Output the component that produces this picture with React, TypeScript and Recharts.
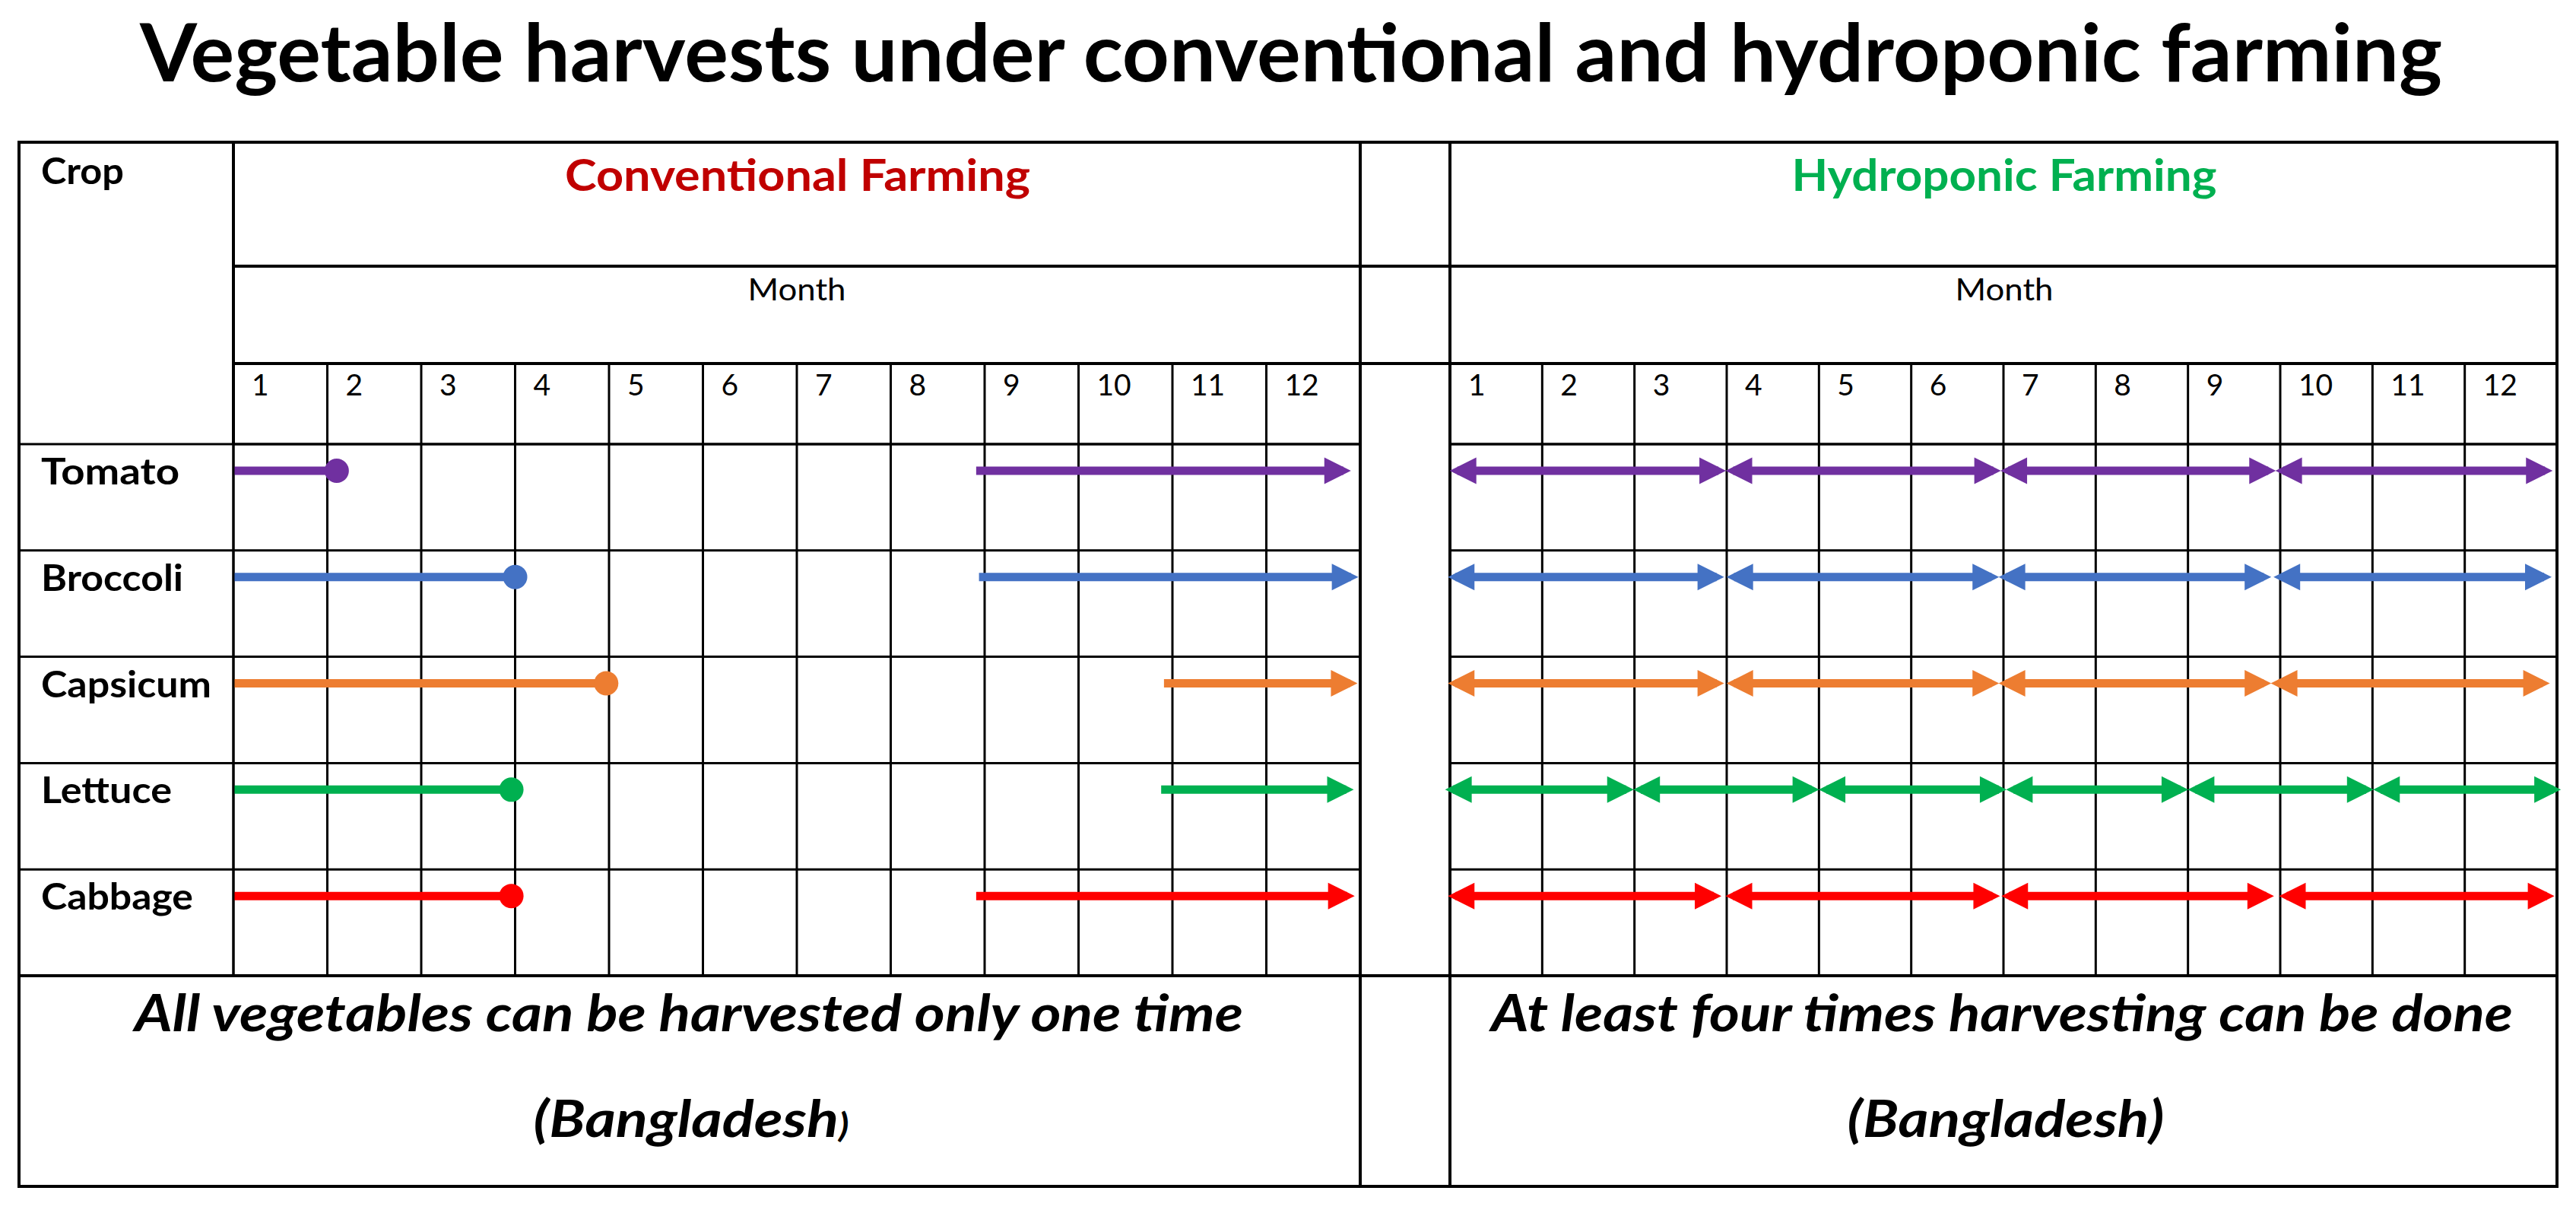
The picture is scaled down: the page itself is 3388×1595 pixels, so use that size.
import React from 'react';
import { ComposedChart, Line, XAxis, YAxis, CartesianGrid, Customized } from 'recharts';

// ---- data ----
const CROPS = ['Tomato', 'Broccoli', 'Capsicum', 'Lettuce', 'Cabbage'];
const MONTHS = ['1', '2', '3', '4', '5', '6', '7', '8', '9', '10', '11', '12'];
const MONTH_TICKS = [0, 1, 2, 3, 4, 5, 6, 7, 8, 9, 10, 11, 12];
const ROW_TICKS = [0, 1, 2, 3, 4, 5];

// conventional farming: one harvest window wrapping the year end
// early part runs from January to the dot, late part from its start to the arrow
const CONV_EARLY_END = [1.1, 3.0, 3.97, 2.96, 2.96];
const CONV_LATE_START = [7.91, 7.94, 9.91, 9.88, 7.91];
const CONV_LATE_END = [11.82, 11.9, 11.89, 11.85, 11.86];

// hydroponic farming: repeated cycles [start, end] in months
const HYDRO_TOMATO = [[0.08, 2.91], [3.07, 5.89], [6.05, 8.87], [9.03, 11.87]];
const HYDRO_BROCCOLI = [[0.06, 2.89], [3.08, 5.87], [6.03, 8.82], [9.01, 11.86]];
const HYDRO_CAPSICUM = [[0.06, 2.89], [3.08, 5.87], [6.03, 8.82], [8.98, 11.84]];
const HYDRO_LETTUCE = [[0.03, 1.91], [2.07, 3.92], [4.08, 5.95], [6.11, 7.92], [8.08, 9.93], [10.09, 11.96]];
const HYDRO_CABBAGE = [[0.06, 2.86], [3.07, 5.88], [6.06, 8.85], [9.07, 11.89]];
const HYDRO_CYCLES = [HYDRO_TOMATO, HYDRO_BROCCOLI, HYDRO_CAPSICUM, HYDRO_LETTUCE, HYDRO_CABBAGE];

// ---- styles / layout ----
const CROP_COLORS = ['#7030A0', '#4472C4', '#ED7D31', '#00B050', '#FF0000'];
const CROP_LABEL_WIDTH = [182, 187, 224, 172, 200]; // squeeze Lato to the original's text widths
const FONT = 'Lato, "Open Sans", sans-serif';
const W = 3388;
const H = 1595;
const T = {
  left: 25, right: 3363, top: 187, bottom: 1560,
  cropRight: 307, convRight: 1789, hydroLeft: 1907,
  titleRow: 350, monthRow: 478, gridTop: 584, gridBottom: 1283,
};
const LANE = 0.25; // where the arrow sits inside a crop row
const GRID = { stroke: '#000', strokeWidth: 3 };
const SHAFT = 11;

const seg = (row: number, s: number, e: number) => [
  { x: s, y: row + LANE },
  { x: e, y: row + LANE },
];

const makeEnds = (color: string, start: 'none' | 'arrow', end: 'dot' | 'arrow') => (p: any) => {
  const { cx, cy, index } = p;
  const key = `end-${index}`;
  const kind = index === 0 ? start : end;
  if (kind === 'none') return <g key={key} />;
  if (kind === 'dot') return <circle key={key} cx={cx} cy={cy} r={16} fill={color} />;
  const dir = index === 0 ? -1 : 1;
  const tip = cx + dir * 10;
  const base = cx - dir * 25;
  return <polygon key={key} points={`${tip},${cy} ${base},${cy - 17.5} ${base},${cy + 17.5}`} fill={color} />;
};

const MonthTick = (props: any) => {
  const { x, y, payload } = props;
  if (payload.value >= 12) return <g />;
  return (
    <text x={x + 24} y={y + 42} fontFamily={FONT} fontSize={39} fill="#000">
      {MONTHS[payload.value]}
    </text>
  );
};

const CropTick = (props: any) => {
  const { x, y, payload } = props;
  if (payload.value >= CROPS.length) return <g />;
  return (
    <text x={x + 29} y={y + 53} fontFamily={FONT} fontSize={47} fontWeight={700} fill="#000"
      textLength={CROP_LABEL_WIDTH[payload.value]} lengthAdjust="spacingAndGlyphs">
      {CROPS[payload.value]}
    </text>
  );
};

const Frame = () => (
  <g>
    <text x={1698} y={107} textAnchor="middle" fontFamily={FONT} fontSize={105} fontWeight={700}
      textLength={3028} lengthAdjust="spacingAndGlyphs" fill="#000">
      Vegetable harvests under conventional and hydroponic farming
    </text>
    <rect x={T.left} y={T.top} width={T.right - T.left} height={T.bottom - T.top} fill="none" stroke="#000" strokeWidth={4} />
    <line x1={T.cropRight} x2={T.cropRight} y1={T.top} y2={T.gridTop} stroke="#000" strokeWidth={4} />
    <line x1={T.convRight} x2={T.convRight} y1={T.top} y2={T.bottom} stroke="#000" strokeWidth={4} />
    <line x1={T.hydroLeft} x2={T.hydroLeft} y1={T.top} y2={T.bottom} stroke="#000" strokeWidth={4} />
    <line x1={T.cropRight} x2={T.right} y1={T.titleRow} y2={T.titleRow} stroke="#000" strokeWidth={4} />
    <line x1={T.cropRight} x2={T.right} y1={T.monthRow} y2={T.monthRow} stroke="#000" strokeWidth={4} />
    <line x1={T.left} x2={T.right} y1={T.gridBottom} y2={T.gridBottom} stroke="#000" strokeWidth={4} />

    <text x={54} y={242} fontFamily={FONT} fontSize={47} fontWeight={700} fill="#000"
      textLength={109} lengthAdjust="spacingAndGlyphs">Crop</text>
    <text x={1049} y={251} textAnchor="middle" fontFamily={FONT} fontSize={57} fontWeight={700}
      fill="#C00000" textLength={612} lengthAdjust="spacingAndGlyphs">Conventional Farming</text>
    <text x={2636} y={251} textAnchor="middle" fontFamily={FONT} fontSize={57} fontWeight={700}
      fill="#00B050" textLength={559} lengthAdjust="spacingAndGlyphs">Hydroponic Farming</text>
    <text x={1048} y={395} textAnchor="middle" fontFamily={FONT} fontSize={40} fill="#000"
      textLength={129} lengthAdjust="spacingAndGlyphs">Month</text>
    <text x={2636} y={395} textAnchor="middle" fontFamily={FONT} fontSize={40} fill="#000"
      textLength={129} lengthAdjust="spacingAndGlyphs">Month</text>

    <text x={906} y={1356} textAnchor="middle" fontFamily={FONT} fontSize={67} fontWeight={700} fontStyle="italic"
      fill="#000" textLength={1458} lengthAdjust="spacingAndGlyphs">All vegetables can be harvested only one time</text>
    <text x={909} y={1495} textAnchor="middle" fontFamily={FONT} fontSize={67} fontWeight={700} fontStyle="italic"
      fill="#000" textLength={415} lengthAdjust="spacingAndGlyphs">(Bangladesh<tspan fontSize={44}>)</tspan></text>
    <text x={2633} y={1356} textAnchor="middle" fontFamily={FONT} fontSize={67} fontWeight={700} fontStyle="italic"
      fill="#000" textLength={1344} lengthAdjust="spacingAndGlyphs">At least four times harvesting can be done</text>
    <text x={2638} y={1495} textAnchor="middle" fontFamily={FONT} fontSize={67} fontWeight={700} fontStyle="italic"
      fill="#000" textLength={417} lengthAdjust="spacingAndGlyphs">(Bangladesh)</text>
  </g>
);

const layer: React.CSSProperties = { position: 'absolute', left: 0, top: 0 };

export default function App() {
  return (
    <div style={{ position: 'absolute', left: 0, top: 0, width: W, height: H, background: '#fff' }}>
      {/* conventional side, also carries the crop column, title and frame */}
      <div style={layer}>
        <ComposedChart width={W} height={H}
          margin={{ top: T.monthRow, right: W - T.convRight, bottom: H - T.gridBottom, left: T.left }}>
          <Customized component={<Frame />} />
          <CartesianGrid {...GRID} />
          <XAxis type="number" dataKey="x" orientation="top" domain={[0, 12]} ticks={MONTH_TICKS} interval={0}
            height={T.gridTop - T.monthRow} tickSize={T.gridTop - T.monthRow} tickMargin={0}
            tickLine={GRID} axisLine={GRID} tick={<MonthTick />} />
          <YAxis type="number" domain={[0, 5]} reversed ticks={ROW_TICKS} interval={0}
            width={T.cropRight - T.left} tickSize={T.cropRight - T.left} tickMargin={0}
            tickLine={GRID} axisLine={GRID} tick={<CropTick />} />
          {CROPS.map((c, i) => (
            <Line key={`ce-${c}`} data={seg(i, 0, CONV_EARLY_END[i])} dataKey="y" type="linear"
              stroke={CROP_COLORS[i]} strokeWidth={SHAFT} dot={makeEnds(CROP_COLORS[i], 'none', 'dot')}
              activeDot={false} isAnimationActive={false} legendType="none" />
          ))}
          {CROPS.map((c, i) => (
            <Line key={`cl-${c}`} data={seg(i, CONV_LATE_START[i], CONV_LATE_END[i])} dataKey="y" type="linear"
              stroke={CROP_COLORS[i]} strokeWidth={SHAFT} dot={makeEnds(CROP_COLORS[i], 'none', 'arrow')}
              activeDot={false} isAnimationActive={false} legendType="none" />
          ))}
        </ComposedChart>
      </div>

      {/* hydroponic side */}
      <div style={layer}>
        <ComposedChart width={W} height={H}
          margin={{ top: T.monthRow, right: W - T.right, bottom: H - T.gridBottom, left: T.hydroLeft }}>
          <CartesianGrid {...GRID} />
          <XAxis type="number" dataKey="x" orientation="top" domain={[0, 12]} ticks={MONTH_TICKS} interval={0}
            height={T.gridTop - T.monthRow} tickSize={T.gridTop - T.monthRow} tickMargin={0}
            tickLine={GRID} axisLine={GRID} tick={<MonthTick />} />
          <YAxis type="number" domain={[0, 5]} reversed ticks={ROW_TICKS} hide />
          {HYDRO_CYCLES.map((cycles, i) =>
            cycles.map(([s, e], k) => (
              <Line key={`h-${i}-${k}`} data={seg(i, s, e)} dataKey="y" type="linear"
                stroke={CROP_COLORS[i]} strokeWidth={SHAFT} dot={makeEnds(CROP_COLORS[i], 'arrow', 'arrow')}
                activeDot={false} isAnimationActive={false} legendType="none" />
            ))
          )}
        </ComposedChart>
      </div>
    </div>
  );
}
